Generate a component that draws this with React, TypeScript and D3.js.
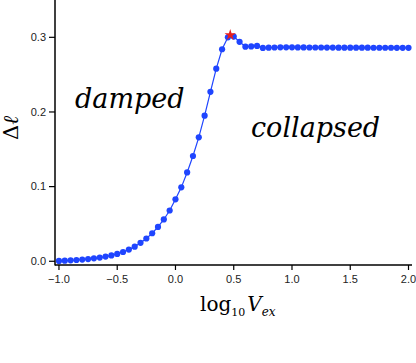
import React from "react";
import * as d3 from "d3";

const width = 416;
const height = 363;

// log10 Vex samples
const xs = [
  -1.0, -0.95, -0.9, -0.85, -0.8, -0.75, -0.7, -0.65, -0.6, -0.55,
  -0.5, -0.45, -0.4, -0.35, -0.3, -0.25, -0.2, -0.15, -0.1, -0.05,
  0.0, 0.05, 0.1, 0.15, 0.2, 0.25, 0.3, 0.35, 0.4, 0.45,
  0.5, 0.55, 0.6, 0.65, 0.7, 0.75, 0.8, 0.85, 0.9, 0.95,
  1.0, 1.05, 1.1, 1.15, 1.2, 1.25, 1.3, 1.35, 1.4, 1.45,
  1.5, 1.55, 1.6, 1.65, 1.7, 1.75, 1.8, 1.85, 1.9, 1.95, 2.0,
];

// delta ell values
const dl = [
  0.0005, 0.0008, 0.0012, 0.0017, 0.0023, 0.003, 0.0039, 0.005, 0.0063, 0.0078,
  0.0098, 0.0124, 0.0156, 0.0196, 0.0247, 0.0305, 0.0375, 0.046, 0.056, 0.068,
  0.083, 0.099, 0.119, 0.141, 0.166, 0.195, 0.227, 0.258, 0.284, 0.3,
  0.301, 0.294, 0.2875, 0.2878, 0.2885, 0.2858, 0.2862, 0.2864, 0.2866, 0.2866,
  0.2866, 0.2865, 0.2865, 0.2864, 0.2864, 0.2864, 0.2863, 0.2863, 0.2862, 0.2862,
  0.2862, 0.2861, 0.2861, 0.2861, 0.286, 0.286, 0.286, 0.286, 0.2859, 0.2859, 0.2859,
];

const peak = { x: 0.47, y: 0.303 };

const xTicks = [-1.0, -0.5, 0.0, 0.5, 1.0, 1.5, 2.0];
const yTicks = [0.0, 0.1, 0.2, 0.3];

const blue = "#1f45ff";

const x = d3.scaleLinear().domain([-1.034, 2.03]).range([55, 412]);
const y = d3.scaleLinear().domain([-0.005, 0.35]).range([265, 0]);

const fmt = d3.format(".1f");

export default function App() {
  const pts = xs.map((v, i) => [v, dl[i]] as [number, number]);
  const line = d3
    .line<[number, number]>()
    .x((d) => x(d[0]))
    .y((d) => y(d[1]));
  const star = d3.symbol().type(d3.symbolStar).size(40)();

  return (
    <svg
      width={width}
      height={height}
      style={{ position: "absolute", left: 0, top: 0, background: "#fff" }}
    >
      <path d={line(pts) || ""} fill="none" stroke={blue} strokeWidth={1.2} />
      {pts.map((d, i) => (
        <circle key={i} cx={x(d[0])} cy={y(d[1])} r={3.1} fill={blue} />
      ))}
      <path
        d={star || ""}
        transform={`translate(${x(peak.x)},${y(peak.y)})`}
        fill="#e8201c"
      />

      {/* axes */}
      <line x1={55} x2={55} y1={0} y2={265.5} stroke="#000" strokeWidth={1.5} />
      <line x1={55} x2={412} y1={265} y2={265} stroke="#000" strokeWidth={1.5} />
      {yTicks.map((t) => (
        <g key={t} transform={`translate(0,${y(t)})`}>
          <line x1={49} x2={55} stroke="#000" strokeWidth={1.2} />
          <text
            x={46}
            dy="0.35em"
            textAnchor="end"
            fontFamily="Liberation Sans, Arial, sans-serif"
            fontSize={11}
            fill="#222"
          >
            {fmt(t)}
          </text>
        </g>
      ))}
      {xTicks.map((t) => (
        <g key={t} transform={`translate(${x(t)},0)`}>
          <line y1={265} y2={270} stroke="#000" strokeWidth={1.2} />
          <text
            y={283}
            textAnchor="middle"
            fontFamily="Liberation Sans, Arial, sans-serif"
            fontSize={11}
            fill="#222"
          >
            {fmt(t)}
          </text>
        </g>
      ))}

      {/* labels */}
      <text
        x={75}
        y={108}
        fontFamily="DejaVu Serif, serif"
        fontStyle="italic"
        fontSize={27}
        fill="#000"
      >
        damped
      </text>
      <text
        x={251}
        y={137}
        fontFamily="DejaVu Serif, serif"
        fontStyle="italic"
        fontSize={27}
        fill="#000"
      >
        collapsed
      </text>
      <text
        transform="translate(18,128) rotate(-90)"
        textAnchor="middle"
        fontFamily="DejaVu Serif, serif"
        fontSize={21}
        fill="#000"
      >
        Δ<tspan fontStyle="italic">ℓ</tspan>
      </text>
      <text x={200} y={311} fontFamily="DejaVu Serif, serif" fontSize={20} fill="#000">
        log
        <tspan fontSize={11} dy={5}>10</tspan>
        <tspan fontStyle="italic" dy={-5} dx={2}>V</tspan>
        <tspan fontStyle="italic" fontSize={12} dy={5}>ex</tspan>
      </text>
    </svg>
  );
}
